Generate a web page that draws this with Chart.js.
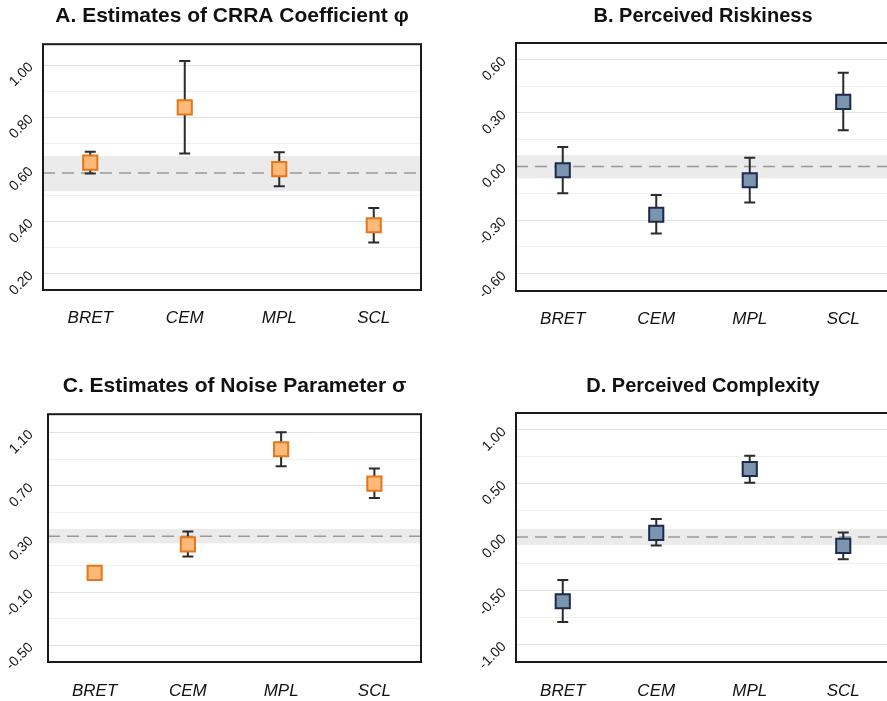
<!DOCTYPE html>
<html>
<head>
<meta charset="utf-8">
<script src="https://cdn.jsdelivr.net/npm/chart.js@4.4.0/dist/chart.umd.min.js"></script>
<style>
  html, body { margin: 0; padding: 0; background: #fff; overflow: hidden; width: 887px; height: 701px; }
  canvas { position: absolute; }
</style>
</head>
<body>
<canvas id="panelA" width="440" height="350" style="left:0;top:0"></canvas>
<canvas id="panelB" width="462" height="350" style="left:440px;top:0"></canvas>
<canvas id="panelC" width="440" height="331" style="left:0;top:370px"></canvas>
<canvas id="panelD" width="462" height="331" style="left:440px;top:370px"></canvas>
<script>
const categories = ["BRET", "CEM", "MPL", "SCL"];

// A. CRRA coefficient
const crraEst = [0.626, 0.838, 0.601, 0.386];
const crraLo  = [0.584, 0.661, 0.536, 0.320];
const crraHi  = [0.668, 1.016, 0.666, 0.452];
const crraRef = 0.586, crraBand = [0.517, 0.651];
const crraGrid   = [0.2, 0.3, 0.4, 0.5, 0.6, 0.7, 0.8, 0.9, 1.0];
const crraLabels = [0.2, 0.4, 0.6, 0.8, 1.0];

// B. perceived riskiness
const riskEst = [-0.021, -0.270, -0.077, 0.362];
const riskLo  = [-0.150, -0.375, -0.201, 0.204];
const riskHi  = [0.109, -0.159, 0.049, 0.525];
const riskRef = 0, riskBand = [-0.066, 0.064];
const riskGrid   = [-0.6, -0.45, -0.3, -0.15, 0, 0.15, 0.3, 0.45, 0.6];
const riskLabels = [-0.6, -0.3, 0, 0.3, 0.6];

// C. noise parameter
const noiseEst = [0.044, 0.259, 0.974, 0.716];
const noiseLo  = [0.036, 0.167, 0.847, 0.608];
const noiseHi  = [0.052, 0.355, 1.102, 0.829];
const noiseRef = 0.32, noiseBand = [0.267, 0.375];
const noiseGrid   = [-0.5, -0.3, -0.1, 0.1, 0.3, 0.5, 0.7, 0.9, 1.1];
const noiseLabels = [-0.5, -0.1, 0.3, 0.7, 1.1];

// D. perceived complexity
const cplxEst = [-0.597, 0.040, 0.634, -0.081];
const cplxLo  = [-0.790, -0.078, 0.506, -0.206];
const cplxHi  = [-0.400, 0.169, 0.758, 0.044];
const cplxRef = 0, cplxBand = [-0.075, 0.075];
const cplxGrid   = [-1, -0.75, -0.5, -0.25, 0, 0.25, 0.5, 0.75, 1];
const cplxLabels = [-1, -0.5, 0, 0.5, 1];

const FONT = "'Liberation Sans', Arial, sans-serif";
const orange = { fill: "#FDB978", edge: "#E4761B" };
const blue = { fill: "#7A95AD", edge: "#1B2A4E" };

const has = (arr, v) => arr.some(a => Math.abs(a - v) < 1e-9);

// band, reference line, error bars and frame
const extras = {
  id: "extras",
  beforeDatasetsDraw(chart, args, o) {
    const { ctx, chartArea: a, scales: { x, y } } = chart;
    ctx.save();
    const b1 = y.getPixelForValue(o.band[1]), b0 = y.getPixelForValue(o.band[0]);
    ctx.fillStyle = "#ebebeb";
    ctx.fillRect(a.left, b1, a.right - a.left, b0 - b1);

    const yr = y.getPixelForValue(o.ref);
    ctx.strokeStyle = "#999";
    ctx.lineWidth = 1.5;
    ctx.setLineDash([12, 7]);
    ctx.beginPath();
    ctx.moveTo(a.left, yr);
    ctx.lineTo(a.right, yr);
    ctx.stroke();
    ctx.setLineDash([]);

    ctx.strokeStyle = "#2b2b2b";
    ctx.lineWidth = 2;
    o.lo.forEach((lo, i) => {
      const px = x.getPixelForValue(i);
      const pl = y.getPixelForValue(lo), ph = y.getPixelForValue(o.hi[i]);
      ctx.beginPath();
      ctx.moveTo(px, pl); ctx.lineTo(px, ph);
      ctx.moveTo(px - 5.5, pl); ctx.lineTo(px + 5.5, pl);
      ctx.moveTo(px - 5.5, ph); ctx.lineTo(px + 5.5, ph);
      ctx.stroke();
    });
    ctx.restore();
  },
  afterDraw(chart) {
    const { ctx, chartArea: a } = chart;
    ctx.save();
    ctx.strokeStyle = "#1a1a1a";
    ctx.lineWidth = 2;
    ctx.strokeRect(a.left, a.top, a.right - a.left, a.bottom - a.top);
    ctx.restore();
  }
};

function panel(id, p) {
  new Chart(document.getElementById(id), {
    type: "line",
    data: {
      labels: categories,
      datasets: [{
        data: p.est,
        showLine: false,
        pointStyle: "rect",
        pointRadius: 10,
        pointHoverRadius: 10,
        pointBorderWidth: 2,
        pointBackgroundColor: p.color.fill,
        pointBorderColor: p.color.edge
      }]
    },
    options: {
      responsive: false,
      animation: false,
      events: [],
      layout: { padding: { left: 0, right: p.padRight, top: 0, bottom: 0 } },
      plugins: {
        legend: { display: false },
        tooltip: { enabled: false },
        title: {
          display: true,
          fullSize: false,
          text: p.title,
          color: "#111",
          font: { family: FONT, size: p.titleSize, weight: "bold" },
          padding: { top: 4, bottom: 15 }
        },
        extras: { lo: p.lo, hi: p.hi, ref: p.ref, band: p.band }
      },
      scales: {
        x: {
          offset: true,
          grid: { display: false, drawTicks: true, tickLength: p.xPad },
          border: { display: false },
          ticks: {
            color: "#111",
            padding: 0,
            font: { family: FONT, size: 17, style: "italic" }
          },
          afterFit: s => {
            s.height = p.xHeight;
            s.paddingLeft = 0;
            s.paddingRight = 0;
          }
        },
        y: {
          min: p.min,
          max: p.max,
          border: { display: false },
          grid: {
            drawTicks: false,
            lineWidth: 1,
            color: c => has(p.labels, c.tick.value) ? "#e2e2e2" : "#f0f0f0"
          },
          afterBuildTicks: s => { s.ticks = p.grid.map(v => ({ value: v })); },
          ticks: {
            autoSkip: false,
            minRotation: 45,
            maxRotation: 45,
            padding: p.yPad,
            color: "#111",
            font: { family: FONT, size: 14 },
            callback: v => has(p.labels, v) ? v.toFixed(2) : ""
          },
          afterFit: s => { s.width = p.yWidth; }
        }
      }
    },
    plugins: [extras]
  });
}

panel("panelA", {
  title: "A. Estimates of CRRA Coefficient \u03c6", titleSize: 21, color: orange,
  est: crraEst, lo: crraLo, hi: crraHi, ref: crraRef, band: crraBand,
  grid: crraGrid, labels: crraLabels, min: 0.138, max: 1.08,
  yWidth: 43, yPad: 12, padRight: 19, xHeight: 60, xPad: 18
});
panel("panelB", {
  title: "B. Perceived Riskiness", titleSize: 20, color: blue,
  est: riskEst, lo: riskLo, hi: riskHi, ref: riskRef, band: riskBand,
  grid: riskGrid, labels: riskLabels, min: -0.697, max: 0.692,
  yWidth: 76, yPad: 12, padRight: 0, xHeight: 59, xPad: 18
});
panel("panelC", {
  title: "C. Estimates of Noise Parameter \u03c3", titleSize: 21, color: orange,
  est: noiseEst, lo: noiseLo, hi: noiseHi, ref: noiseRef, band: noiseBand,
  grid: noiseGrid, labels: noiseLabels, min: -0.626, max: 1.238,
  yWidth: 48, yPad: 17, padRight: 19, xHeight: 39, xPad: 19
});
panel("panelD", {
  title: "D. Perceived Complexity", titleSize: 20, color: blue,
  est: cplxEst, lo: cplxLo, hi: cplxHi, ref: cplxRef, band: cplxBand,
  grid: cplxGrid, labels: cplxLabels, min: -1.162, max: 1.155,
  yWidth: 76, yPad: 12, padRight: 0, xHeight: 39, xPad: 19
});
</script>
</body>
</html>
